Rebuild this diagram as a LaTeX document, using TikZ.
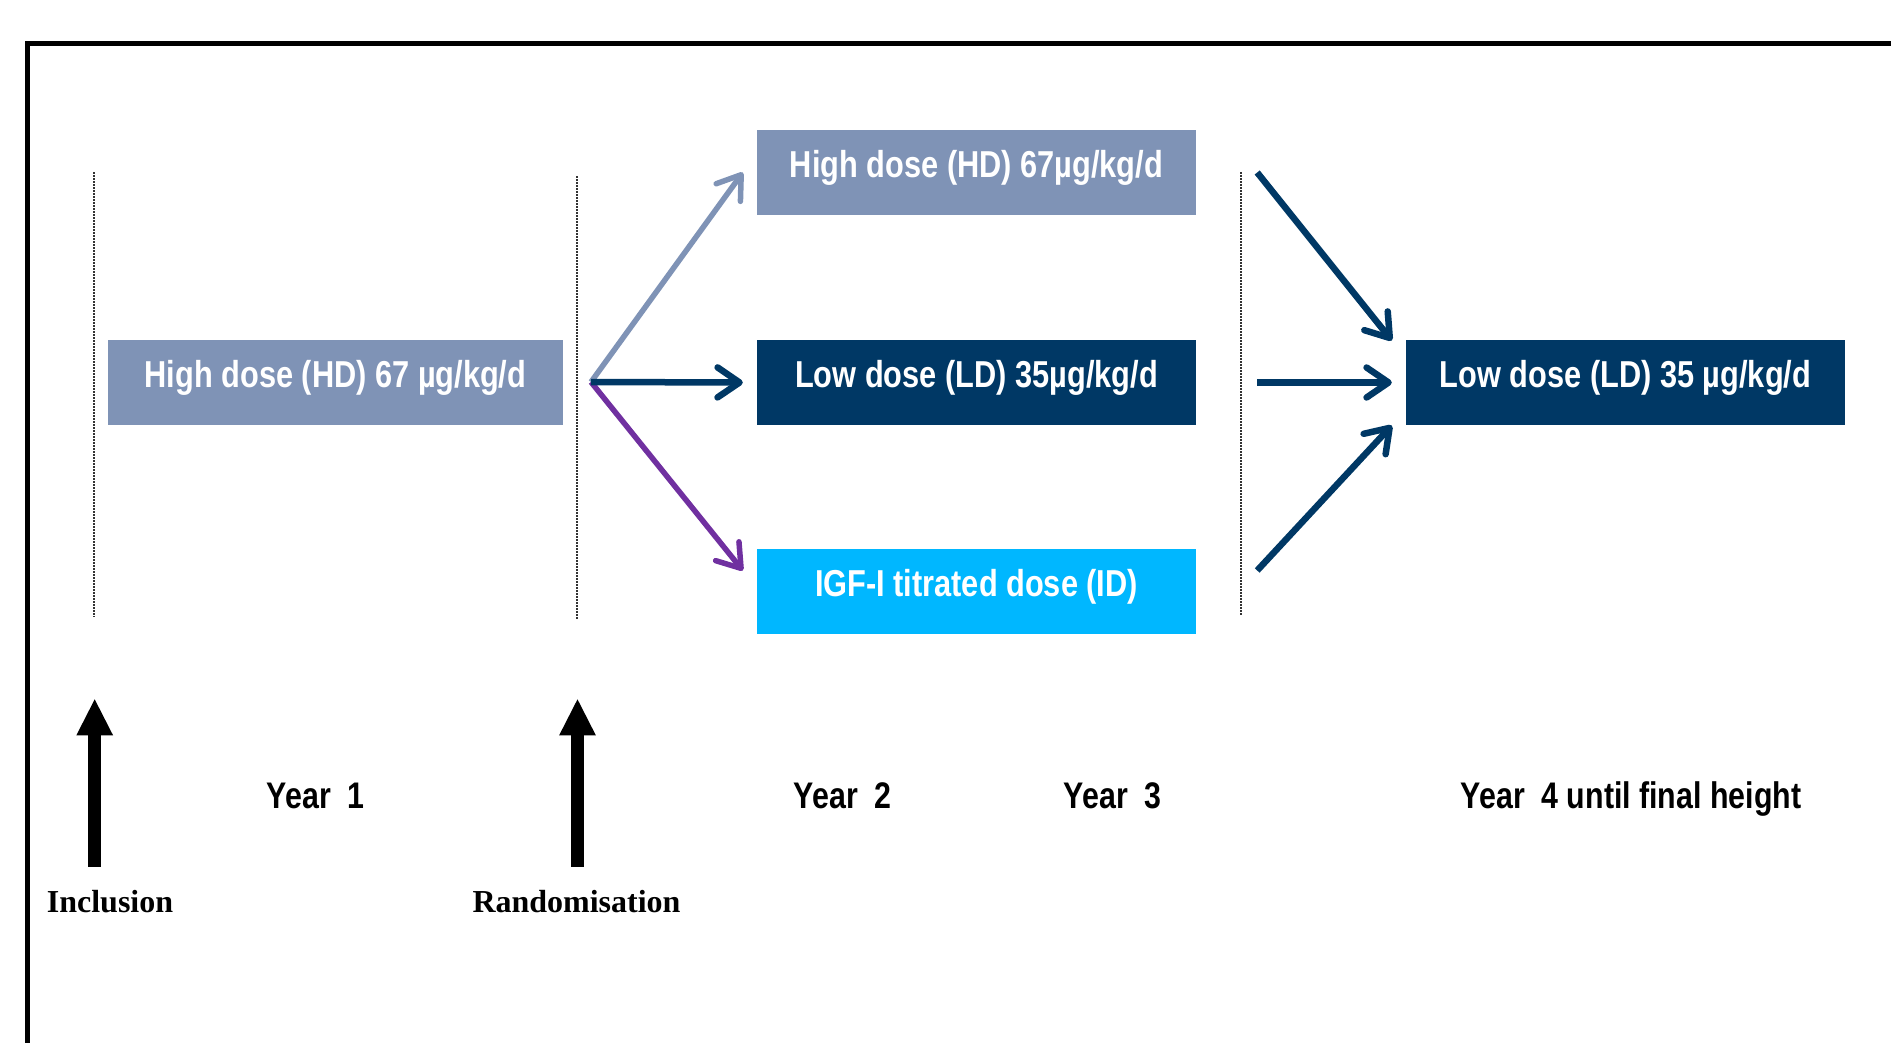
\documentclass[tikz,border=0pt]{standalone}
\usepackage{fontspec}
\setmainfont{Liberation Sans}
\newfontfamily\narrowfont[FakeStretch=0.82]{Liberation Sans}
\newfontfamily\timesfont{Liberation Serif}
\usetikzlibrary{arrows.meta,calc}
\definecolor{hdblue}{HTML}{7F93B6}
\definecolor{ldblue}{HTML}{003865}
\definecolor{idblue}{HTML}{00B7FF}
\definecolor{purp}{HTML}{7030A0}
\begin{document}
\begin{tikzpicture}[x=1pt,y=-1pt,
  dosebox/.style={inner sep=0pt, minimum width=439pt, text height=47pt, text depth=38pt, text=white,
    font=\narrowfont\bfseries\fontsize{37.5}{44}\selectfont},
  yearlabel/.style={anchor=base west, inner sep=0pt, font=\narrowfont\bfseries\fontsize{37}{44}\selectfont},
  eventlabel/.style={anchor=base west, inner sep=0pt, font=\timesfont\bfseries\fontsize{32}{38}\selectfont},
  timeline/.style={line width=1.5pt, dash pattern=on 1.5pt off 1.5pt, black!80},
  flow/.style={line width=5.5pt, -{Straight Barb[length=22pt 0 0, width=30pt 0 0, round]}},
  bigshaft/.style={line width=12.7pt, black},
]
\useasboundingbox (0,0) rectangle (1891,1042);
% frame
\draw[line width=5pt] (27,1080) -- (27,43.5) -- (1930,43.5);
% timelines
\draw[timeline] (94,172) -- (94,617);
\draw[timeline] (577,176) -- (577,620);
\draw[timeline] (1241,172) -- (1241,616);
% boxes
\node[dosebox, fill=hdblue, minimum width=455pt] (hd1) at (335.5,382.5) {High dose (HD) 67 µg/kg/d};
\node[dosebox, fill=hdblue] (hd2) at (976.5,172.5) {High dose (HD) 67µg/kg/d};
\node[dosebox, fill=ldblue] (ld2) at (976.5,382.5) {Low dose (LD) 35µg/kg/d};
\node[dosebox, fill=idblue] (id2) at (976.5,591.5) {IGF-I titrated dose (ID)};
\node[dosebox, fill=ldblue] (ld3) at (1625.5,382.5) {Low dose (LD) 35 µg/kg/d};
% randomisation fork
\coordinate (fork) at (591,382);
\draw[flow, hdblue] (fork) -- ($(hd2.west)+(-14,0)$);
\draw[flow, purp] (fork) -- ($(id2.west)+(-14,-21)$);
\draw[flow, ldblue, line width=6.5pt] (fork) -- ($(ld2.west)+(-14,0)$);
% convergence
\draw[flow, ldblue, line width=6.5pt] ($(hd2.east)+(61,0)$) -- ($(ld3.west)+(-14,-42)$);
\draw[flow, ldblue, line width=6.5pt] ($(ld2.east)+(61,0)$) -- ($(ld3.west)+(-14,0)$);
\draw[flow, ldblue, line width=6.5pt] ($(id2.east)+(61,-21)$) -- ($(ld3.west)+(-14,43)$);
% year labels
\node[yearlabel] (y1) at (266.7,808) {Year\ \ 1};
\node[yearlabel] (y2) at (793.6,808) {Year\ \ 2};
\node[yearlabel] (y3) at (1063.7,808) {Year\ \ 3};
\node[yearlabel] (y4) at (1460.5,808) {Year\ \ 4 until final height};
% event labels
\node[eventlabel] (incl) at (46.7,912) {Inclusion};
\node[eventlabel] (rand) at (472.3,912) {Randomisation};
% event arrows
\coordinate (inclbase) at (94.7,866.7);
\coordinate (incltip) at (94.7,699.3);
\draw[bigshaft] (inclbase) -- ($(incltip)+(0,35)$);
\fill (incltip) -- ++(-18.35,36) -- ++(36.7,0) -- cycle;
\coordinate (randbase) at (577.5,866.7);
\coordinate (randtip) at (577.5,699.3);
\draw[bigshaft] (randbase) -- ($(randtip)+(0,35)$);
\fill (randtip) -- ++(-18.35,36) -- ++(36.7,0) -- cycle;
\end{tikzpicture}
\end{document}
